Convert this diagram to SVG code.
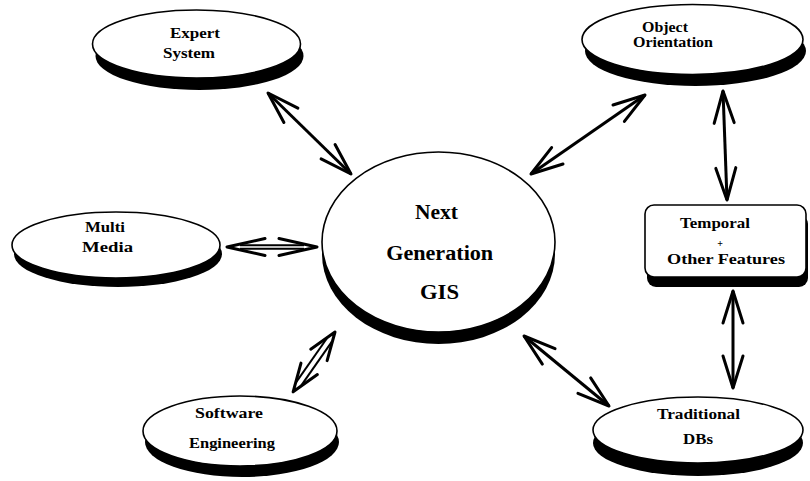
<svg xmlns="http://www.w3.org/2000/svg" width="810" height="481" viewBox="0 0 810 481">
  <style>
    .shadow { fill: #000; }
    .face { fill: #fff; stroke: #000; stroke-width: 1.6; }
    .lbl { font-family: "Liberation Serif", "Times New Roman", serif; font-weight: bold; font-size: 15px; text-anchor: middle; fill: #000; }
    .big { font-size: 20px; }
    .plus { font-size: 10px; }
    .arrow { fill: none; stroke: #000; stroke-width: 3; }
    .hollow { fill: none; stroke: #000; stroke-width: 3; stroke-linejoin: round; stroke-linecap: round; }
    .rail { fill: none; stroke: #000; stroke-width: 2; }
  </style>
  <defs>
    <!-- open V head used on both ends of the single-line connectors -->
    <marker id="vhead" markerUnits="userSpaceOnUse" viewBox="-40 -15 45 30" refX="0" refY="0"
            markerWidth="45" markerHeight="30" orient="auto-start-reverse" overflow="visible">
      <path d="M-32,-10 L0,0 L-32,10" fill="none" stroke="#000" stroke-width="3"
            stroke-linejoin="round" stroke-linecap="round"/>
    </marker>
  </defs>

  <rect width="810" height="481" fill="#fff"/>

  <!-- connectors -->
  <g id="connectors">
    <line class="arrow" x1="268" y1="93" x2="351" y2="174" marker-start="url(#vhead)" marker-end="url(#vhead)"/>
    <line class="arrow" x1="531" y1="174" x2="645" y2="95" marker-start="url(#vhead)" marker-end="url(#vhead)"/>
    <line class="arrow" x1="723" y1="91" x2="727" y2="200" marker-start="url(#vhead)" marker-end="url(#vhead)"/>
    <line class="arrow" x1="733" y1="291" x2="733" y2="388" marker-start="url(#vhead)" marker-end="url(#vhead)"/>
    <line class="arrow" x1="524" y1="336" x2="609" y2="406" marker-start="url(#vhead)" marker-end="url(#vhead)"/>

    <!-- double-rail arrow: Multi Media <-> GIS -->
    <g id="arrow-media">
      <path class="hollow" d="M265,238.5 L227,247 L265,255.5"/>
      <path class="hollow" d="M279,238.5 L317,247 L279,255.5"/>
      <line class="rail" x1="240" y1="245.3" x2="304" y2="245.3"/>
      <line class="rail" x1="240" y1="248.7" x2="304" y2="248.7"/>
    </g>

    <!-- double-rail arrow: GIS <-> Software Engineering -->
    <g id="arrow-software" transform="translate(335,332) rotate(125)">
      <path class="hollow" d="M28,-10 L0,0 L28,10"/>
      <path class="hollow" d="M45,-10 L73,0 L45,10"/>
      <line class="rail" x1="10" y1="-3" x2="63" y2="-3"/>
      <line class="rail" x1="10" y1="3" x2="63" y2="3"/>
    </g>
  </g>

  <!-- nodes -->
  <g id="expert-system">
    <ellipse class="shadow" cx="199.5" cy="56" rx="104" ry="34"/>
    <ellipse class="face" cx="196.5" cy="44" rx="104" ry="34"/>
    <text class="lbl" x="195" y="38" textLength="50" lengthAdjust="spacingAndGlyphs">Expert</text>
    <text class="lbl" x="189" y="57.5" textLength="52" lengthAdjust="spacingAndGlyphs">System</text>
  </g>

  <g id="object-orientation">
    <ellipse class="shadow" cx="695.5" cy="51" rx="110.5" ry="35"/>
    <ellipse class="face" cx="692.5" cy="39.5" rx="110.5" ry="35"/>
    <text class="lbl" x="665" y="32" textLength="46" lengthAdjust="spacingAndGlyphs">Object</text>
    <text class="lbl" x="673" y="47" textLength="80" lengthAdjust="spacingAndGlyphs">Orientation</text>
  </g>

  <g id="multi-media">
    <ellipse class="shadow" cx="118" cy="254" rx="104" ry="33"/>
    <ellipse class="face" cx="116" cy="245" rx="104" ry="33"/>
    <text class="lbl" x="105" y="232" textLength="40" lengthAdjust="spacingAndGlyphs">Multi</text>
    <text class="lbl" x="107.5" y="252" textLength="51" lengthAdjust="spacingAndGlyphs">Media</text>
  </g>

  <g id="next-generation-gis">
    <ellipse class="shadow" cx="438.5" cy="254" rx="116.5" ry="90"/>
    <ellipse class="face" cx="438.5" cy="242" rx="116.5" ry="90"/>
    <text class="lbl big" x="436.5" y="218.5" textLength="43" lengthAdjust="spacingAndGlyphs">Next</text>
    <text class="lbl big" x="439.7" y="260" textLength="107" lengthAdjust="spacingAndGlyphs">Generation</text>
    <text class="lbl big" x="439.5" y="298.5" textLength="39" lengthAdjust="spacingAndGlyphs">GIS</text>
  </g>

  <g id="temporal-features">
    <rect class="shadow" x="647" y="215" width="161" height="72" rx="9"/>
    <rect class="face" x="645" y="205" width="161" height="72" rx="9"/>
    <text class="lbl" x="715" y="228" textLength="70" lengthAdjust="spacingAndGlyphs">Temporal</text>
    <text class="lbl plus" x="720" y="246.5">+</text>
    <text class="lbl" x="726" y="263.5" textLength="118" lengthAdjust="spacingAndGlyphs">Other Features</text>
  </g>

  <g id="software-engineering">
    <ellipse class="shadow" cx="242" cy="442" rx="97" ry="35"/>
    <ellipse class="face" cx="240" cy="431" rx="97" ry="35"/>
    <text class="lbl" x="229" y="417.5" textLength="68" lengthAdjust="spacingAndGlyphs">Software</text>
    <text class="lbl" x="232" y="447.5" textLength="86" lengthAdjust="spacingAndGlyphs">Engineering</text>
  </g>

  <g id="traditional-dbs">
    <ellipse class="shadow" cx="698" cy="443" rx="105" ry="33"/>
    <ellipse class="face" cx="698" cy="430" rx="105" ry="33"/>
    <text class="lbl" x="698.5" y="418.5" textLength="83" lengthAdjust="spacingAndGlyphs">Traditional</text>
    <text class="lbl" x="698" y="444" textLength="30" lengthAdjust="spacingAndGlyphs">DBs</text>
  </g>
</svg>
